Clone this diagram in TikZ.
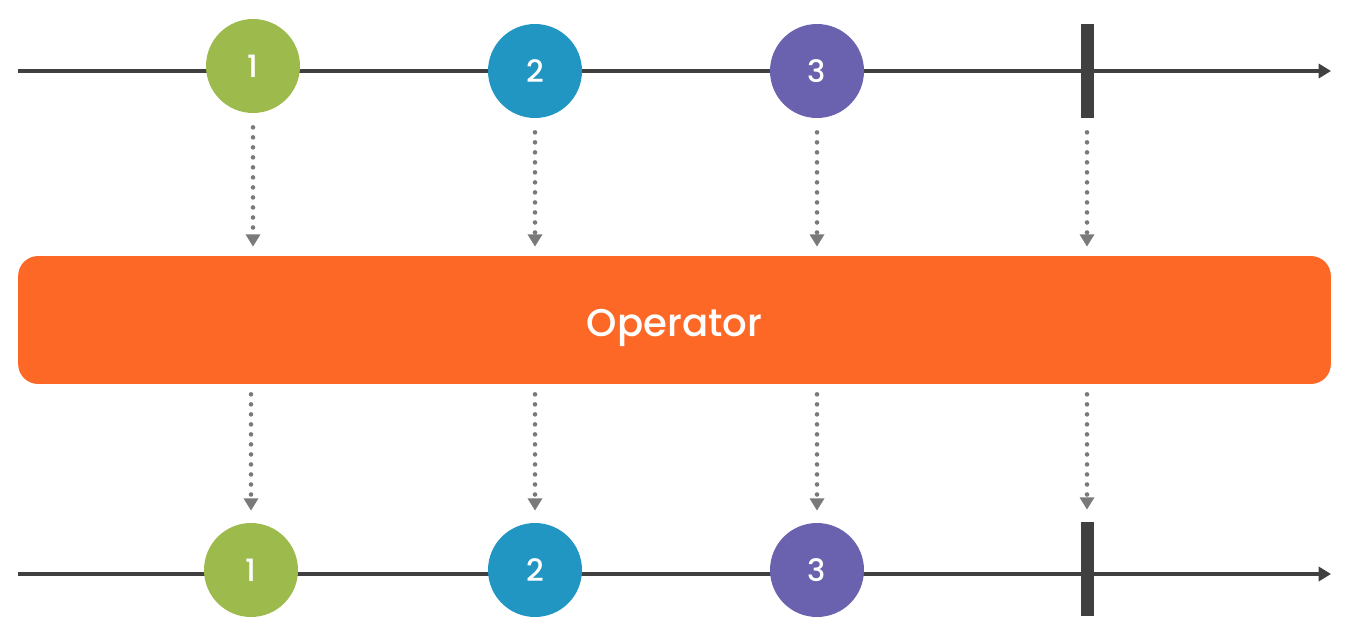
\documentclass[tikz,border=0pt]{standalone}
\usepackage{fontspec}
\setmainfont{Poppins}[UprightFont=* Medium]
\usetikzlibrary{arrows.meta}
\definecolor{evgreen}{HTML}{9DBB4C}
\definecolor{evblue}{HTML}{2196C3}
\definecolor{evpurple}{HTML}{6A62AE}
\definecolor{oporange}{HTML}{FE6826}
\definecolor{linegray}{HTML}{404040}
\definecolor{dotgray}{HTML}{7A7A7A}
\tikzset{
  event/.style={circle,minimum size=1.88cm,inner sep=0pt,text=white,
    font=\fontsize{17.5}{17.5}\selectfont},
  stopbar/.style={fill=linegray,minimum width=0.26cm,minimum height=1.88cm,inner sep=0pt},
  timeline/.style={draw=linegray,line width=2.3pt,-{Triangle[width=8pt,length=7pt]}},
  flow/.style={draw=dotgray,line width=2.6pt,dash pattern=on 0pt off 5.7pt,line cap=round,
    -{Triangle[width=8pt,length=7pt]}},
  opbox/.style={fill=oporange,rounded corners=0.4cm,minimum width=26.26cm,
    minimum height=2.56cm,text=white,font=\fontsize{22}{22}\selectfont},
}
\begin{document}
\begin{tikzpicture}[x=0.02cm,y=-0.02cm]
      \useasboundingbox (0,0) rectangle (1348,632);
      \coordinate (ts) at (18,71);
      \coordinate (te) at (1331,71);
      \coordinate (bs) at (18,574);
      \coordinate (be) at (1331,574);
      \draw[timeline] (ts) -- (te);
      \draw[timeline] (bs) -- (be);
      % source stream
      \node[event,fill=evgreen] (a1) at (253,66) {1};
      \node[event,fill=evblue] (a2) at (535,71) {2};
      \node[event,fill=evpurple] (a3) at (817,71) {3};
      \node[stopbar] (ae) at (1087,71) {};
      % operator
      \node[opbox] (op) at (674.5,320) {\raisebox{-9.2pt}[0pt][0pt]{Operator}};
      % result stream
      \node[event,fill=evgreen] (b1) at (251,570) {1};
      \node[event,fill=evblue] (b2) at (535,570) {2};
      \node[event,fill=evpurple] (b3) at (817,570) {3};
      \node[stopbar] (be) at (1087,569) {};
      \begin{scope}[flow,shorten <=0.28cm,shorten >=0.18cm]
        \draw (a1.south) -- (a1.south |- op.north);
        \draw (a2.south) -- (a2.south |- op.north);
        \draw (a3.south) -- (a3.south |- op.north);
        \draw (ae.south) -- (ae.south |- op.north);
      \end{scope}
      \begin{scope}[flow,shorten <=0.2cm,shorten >=0.24cm]
        \draw (b1.north |- op.south) -- (b1.north);
        \draw (b2.north |- op.south) -- (b2.north);
        \draw (b3.north |- op.south) -- (b3.north);
        \draw (be.north |- op.south) -- (be.north);
      \end{scope}
    \end{tikzpicture}
\end{document}
